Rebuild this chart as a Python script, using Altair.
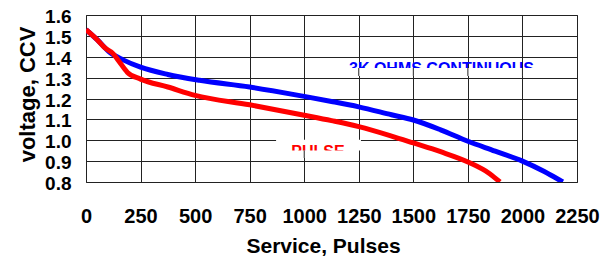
import altair as alt
import pandas as pd

# ---- data ----
blue_x = [0, 50, 110, 170, 250, 375, 520, 750, 1000, 1125, 1250, 1400, 1500, 1625, 1750, 1875, 2000, 2100, 2185]
blue_y = [1.53, 1.483, 1.42, 1.385, 1.35, 1.315, 1.287, 1.255, 1.21, 1.186, 1.16, 1.122, 1.097, 1.05, 0.995, 0.948, 0.9, 0.85, 0.8]
red_x = [0, 50, 87, 124, 150, 190, 250, 375, 500, 750, 1000, 1125, 1250, 1400, 1500, 1625, 1750, 1850, 1897]
red_y = [1.53, 1.483, 1.442, 1.415, 1.38, 1.325, 1.293, 1.255, 1.215, 1.17, 1.12, 1.094, 1.065, 1.02, 0.987, 0.945, 0.896, 0.84, 0.8]
series_names = ["3K OHMS CONTINUOUS", "PULSE"]
series_colors = ["#0000ff", "#ff0000"]

x_ticks = [0, 250, 500, 750, 1000, 1250, 1500, 1750, 2000, 2250]
y_ticks = [0.8, 0.9, 1.0, 1.1, 1.2, 1.3, 1.4, 1.5, 1.6]

label_text = ["3K OHMS CONTINUOUS", "PULSE"]
label_x = [1629, 1063]
label_y = [1.316, 0.922]

# white label box behind "PULSE" and the clipping strips of the labels
box_x = [871]
box_x2 = [1260]
box_y = [0.951]
box_y2 = [1.002]
clip_x = [1200, 935]
clip_x2 = [2060, 1196]
clip_y = [1.308, 0.915]
clip_y2 = [1.346, 0.951]
seg_x = [1250, 1500, 1750, 2000, 1000]
seg_y = [1.308, 1.308, 1.308, 1.308, 0.915]
seg_y2 = [1.346, 1.346, 1.346, 1.346, 0.951]

# ---- tables (same field names in every layer so the axes merge) ----
lines_df = pd.concat([
    pd.DataFrame({"pulses": blue_x, "volts": blue_y, "series": series_names[0]}),
    pd.DataFrame({"pulses": red_x, "volts": red_y, "series": series_names[1]}),
])
labels_df = pd.DataFrame({"pulses": label_x, "volts": label_y, "t": label_text, "series": series_names})
box_df = pd.DataFrame({"pulses": box_x, "pulses2": box_x2, "volts": box_y, "volts2": box_y2})
clip_df = pd.DataFrame({"pulses": clip_x, "pulses2": clip_x2, "volts": clip_y, "volts2": clip_y2})
seg_df = pd.DataFrame({"pulses": seg_x, "volts": seg_y, "volts2": seg_y2})

FONT = "Liberation Sans"
xscale = alt.Scale(domain=[0, 2250], nice=False)
yscale = alt.Scale(domain=[0.8, 1.6], nice=False, zero=False)
cscale = alt.Scale(domain=series_names, range=series_colors)

X_TITLE = "Service, Pulses"
Y_TITLE = "voltage, CCV"

x_axis = alt.Axis(
    values=x_ticks, tickCount=len(x_ticks), format="d", grid=True, gridColor="#222", gridOpacity=1,
    ticks=False, tickSize=0, domain=False, labelOverlap=False,
    labelFont=FONT, labelFontSize=20, labelFontWeight="bold", labelColor="black",
    labelPadding=40, labelBaseline="alphabetic", labelFlush=False,
    titleFont=FONT, titleFontSize=21, titleFontWeight="bold", titleColor="black",
    titleX=237, titleY=70, titleBaseline="alphabetic", titleAlign="center",
)
y_axis = alt.Axis(
    values=y_ticks, tickCount=len(y_ticks), format=".1f", grid=True, gridColor="#222", gridOpacity=1,
    ticks=False, tickSize=0, domain=False, labelOverlap=False,
    labelFont=FONT, labelFontSize=19, labelFontWeight="bold", labelColor="black",
    labelPadding=15, labelFlush=False, labelOffset=1.5,
    titleFont=FONT, titleFontSize=22, titleFontWeight="bold", titleColor="black",
    titleX=-52, titleY=79, titleBaseline="alphabetic", titleAlign="center", titleAngle=-90,
)

lines = alt.Chart(lines_df).mark_line(strokeWidth=5, clip=True, interpolate="monotone").encode(
    x=alt.X("pulses:Q", scale=xscale, title=X_TITLE, axis=x_axis),
    y=alt.Y("volts:Q", scale=yscale, title=Y_TITLE, axis=y_axis),
    color=alt.Color("series:N", scale=cscale, legend=None),
)

box = alt.Chart(box_df).mark_rect(color="white").encode(
    x=alt.X("pulses:Q", scale=xscale, title=X_TITLE), x2="pulses2:Q",
    y=alt.Y("volts:Q", scale=yscale, title=Y_TITLE), y2="volts2:Q",
)

labels = alt.Chart(labels_df).mark_text(font=FONT, fontSize=16, fontWeight="bold",
                                        align="center", baseline="alphabetic").encode(
    x=alt.X("pulses:Q", scale=xscale, title=X_TITLE),
    y=alt.Y("volts:Q", scale=yscale, title=Y_TITLE),
    text="t:N",
    color=alt.Color("series:N", scale=cscale, legend=None),
)

clips = alt.Chart(clip_df).mark_rect(color="white").encode(
    x=alt.X("pulses:Q", scale=xscale, title=X_TITLE), x2="pulses2:Q",
    y=alt.Y("volts:Q", scale=yscale, title=Y_TITLE), y2="volts2:Q",
)

segs = alt.Chart(seg_df).mark_rule(color="#222", strokeWidth=1).encode(
    x=alt.X("pulses:Q", scale=xscale, title=X_TITLE),
    y=alt.Y("volts:Q", scale=yscale, title=Y_TITLE), y2="volts2:Q",
)

chart = alt.layer(lines, box, labels, clips, segs).properties(
    width=491, height=167,
    autosize=alt.AutoSizeParams(type="none"),
    padding={"left": 78, "top": 7, "right": 25, "bottom": 80},
).configure(
    background="white",
).configure_view(
    stroke="#333", strokeWidth=1,
)

chart.save("out.html", embed_options={"renderer": "svg", "actions": False})
